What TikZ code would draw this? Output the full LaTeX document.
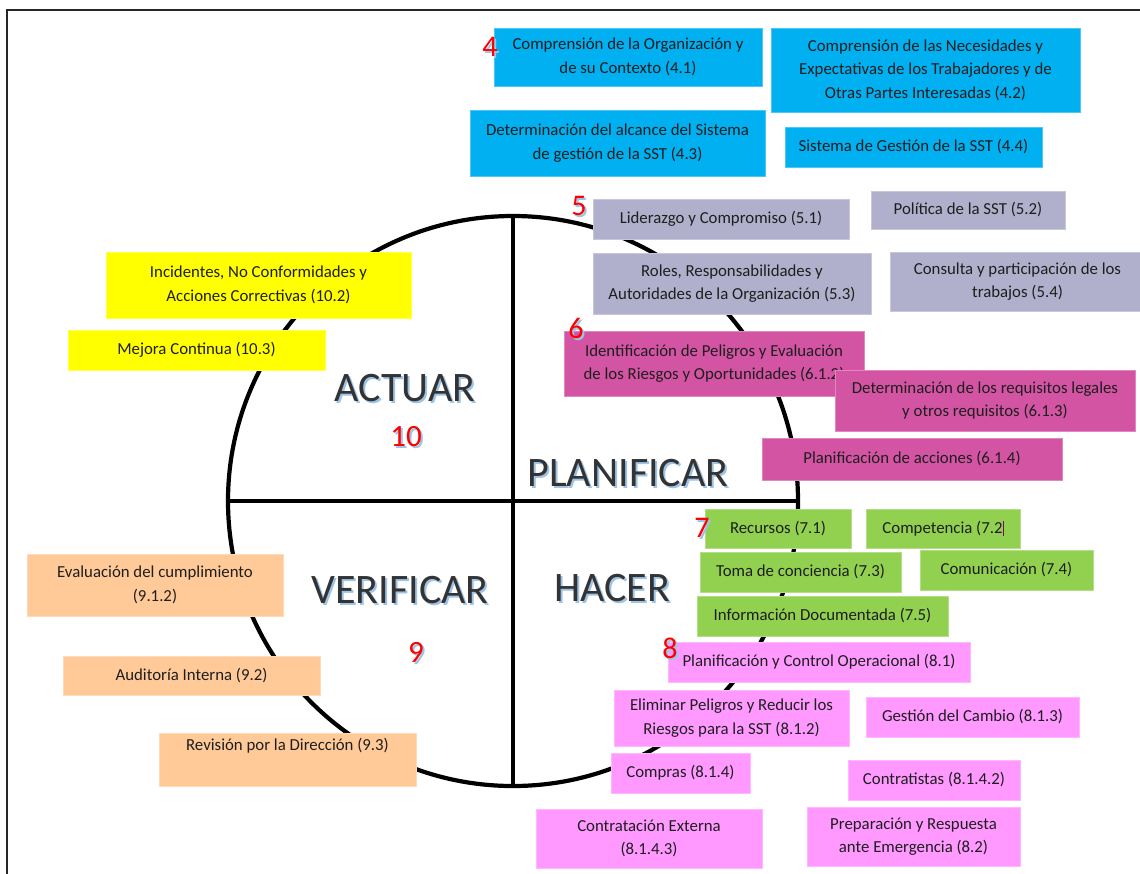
\documentclass[tikz,border=0pt]{standalone}
\usepackage{fontspec}
\setmainfont{Carlito}
\usetikzlibrary{shapes.geometric}

\definecolor{cajaazul}{HTML}{00B0F0}
\definecolor{cajalila}{RGB}{176,176,204}
\definecolor{cajamagenta}{RGB}{212,84,164}
\definecolor{cajaverde}{HTML}{92D050}
\definecolor{cajarosa}{HTML}{FF99FF}
\definecolor{cajadurazno}{HTML}{FFCA98}
\definecolor{cajaamarillo}{HTML}{FFFF00}
\definecolor{textocaja}{HTML}{1E1E1E}
\definecolor{sombraazul}{HTML}{9DC3E6}
\definecolor{grisfase}{HTML}{333333}

\tikzset{
  caja/.style={rectangle, inner sep=0pt, align=center, text=textocaja,
    font=\fontsize{16.8}{23.5}\selectfont},
  fase/.style={inner sep=0pt, font=\fontsize{42}{42}\selectfont},
  numfase/.style={inner sep=0pt, font=\fontsize{31}{31}\selectfont},
  numsec/.style={inner sep=0pt, font=\fontsize{30}{30}\selectfont},
  trazo/.style={line width=4.2pt, black},
}

% box: name, colour, x1, y1, x2, y2, text
\newcommand{\cajon}[7]{%
  \node[caja, fill=#2, draw=#2!70!white, line width=0.6pt,
        minimum width={(#5-#3)*1pt}, minimum height={(#6-#4)*1pt}]
        (#1) at ({(#3+#5)/2},{(#4+#6)/2}) {#7};}

% shadowed label: name, style, colour, x, y, text
\newcommand{\rotulo}[6]{%
  \node[#2, text=sombraazul] (#1-s) at ({#4+2},{#5+2}) {#6};
  \node[#2, text=#3] (#1) at (#4,#5) {#6};}

\begin{document}
\begin{tikzpicture}[x=1pt, y=-1pt]
\useasboundingbox (0,0) rectangle (1140,873);

% outer frame
\draw[line width=2pt, black!85] (7,890) -- (7,10) -- (1160,10);

% PHVA cycle
\node[circle, draw, trazo, minimum size=570pt, inner sep=0pt] (ciclo) at (513,501) {};
\draw[trazo] (ciclo.north) -- (ciclo.south);
\draw[trazo] (ciclo.west) -- (ciclo.east);

% phase names
\rotulo{actuar}{fase}{grisfase}{405}{388}{ACTUAR}
\rotulo{planificar}{fase}{grisfase}{628}{473}{PLANIFICAR}
\rotulo{verificar}{fase}{grisfase}{400}{590}{VERIFICAR}
\rotulo{hacer}{fase}{grisfase}{612}{588}{HACER}
\rotulo{n10}{numfase}{red}{406}{437}{10}
\rotulo{n9}{numfase}{red}{416}{652}{9}

% clause 4
\cajon{b41}{cajaazul}{494}{28}{762}{86}{Comprensión de la Organización y\\de su Contexto (4.1)}
\cajon{b42}{cajaazul}{771}{28}{1080}{112}{Comprensión de las Necesidades y\\Expectativas de los Trabajadores y de\\Otras Partes Interesadas (4.2)}
\cajon{b43}{cajaazul}{470}{110}{765}{176}{Determinación del alcance del Sistema\\de gestión de la SST (4.3)}
\cajon{b44}{cajaazul}{785}{127}{1042}{167}{Sistema de Gestión de la SST (4.4)}

% clause 5
\cajon{l51}{cajalila}{593}{199}{849}{239}{Liderazgo y Compromiso (5.1)}
\cajon{l52}{cajalila}{871}{191}{1065}{229}{Política de la SST (5.2)}
\cajon{l53}{cajalila}{593}{253}{871}{314}{Roles, Responsabilidades y\\Autoridades de la Organización (5.3)}
\cajon{l54}{cajalila}{890}{252}{1145}{311}{Consulta y participación de los\\trabajos (5.4)}

% clause 6
\cajon{m612}{cajamagenta}{564}{331}{864}{396}{Identificación de Peligros y Evaluación\\de los Riesgos y Oportunidades (6.1.2)}
\cajon{m613}{cajamagenta}{835}{370}{1135}{431}{Determinación de los requisitos legales\\y otros requisitos (6.1.3)}
\cajon{m614}{cajamagenta}{762}{438}{1062}{480}{Planificación de acciones (6.1.4)}

% clause 7
\cajon{g71}{cajaverde}{705}{509}{851}{548}{Recursos (7.1)}
\cajon{g72}{cajaverde}{866}{509}{1020}{548}{Competencia (7.2\textcolor{violet}{\rule[-3pt]{0.9pt}{15pt}}}
\cajon{g73}{cajaverde}{700}{552}{901}{592}{Toma de conciencia (7.3)}
\cajon{g74}{cajaverde}{920}{550}{1093}{590}{Comunicación (7.4)}
\cajon{g75}{cajaverde}{697}{596}{948}{636}{Información Documentada (7.5)}

% clause 8
\cajon{p81}{cajarosa}{668}{642}{970}{682}{Planificación y Control Operacional (8.1)}
\cajon{p812}{cajarosa}{614}{690}{849}{746}{Eliminar Peligros y Reducir los\\Riesgos para la SST (8.1.2)}
\cajon{p813}{cajarosa}{866}{697}{1079}{737}{Gestión del Cambio (8.1.3)}
\cajon{p814}{cajarosa}{611}{753}{750}{793}{Compras (8.1.4)}
\cajon{p8142}{cajarosa}{848}{760}{1020}{800}{Contratistas (8.1.4.2)}
\cajon{p8143}{cajarosa}{536}{809}{762}{868}{Contratación Externa\\(8.1.4.3)}
\cajon{p82}{cajarosa}{807}{807}{1020}{866}{Preparación y Respuesta\\ante Emergencia (8.2)}

% clause 9
\cajon{o912}{cajadurazno}{27}{554}{283}{616}{Evaluación del cumplimiento\\(9.1.2)}
\cajon{o92}{cajadurazno}{63}{656}{320}{695}{Auditoría Interna (9.2)}
\cajon{o93}{cajadurazno}{159}{733}{416}{786}{Revisión por la Dirección (9.3)\\\strut}

% clause 10
\cajon{y102}{cajaamarillo}{106}{252}{411}{318}{Incidentes, No Conformidades y\\Acciones Correctivas (10.2)}
\cajon{y103}{cajaamarillo}{68}{330}{325}{370}{Mejora Continua (10.3)}

% clause numbers
\rotulo{s4}{numsec}{red}{490}{47}{4}
\rotulo{s5}{numsec}{red}{579}{206}{5}
\rotulo{s6}{numsec}{red}{576}{328}{6}
\rotulo{s7}{numsec}{red}{702}{528}{7}
\rotulo{s8}{numsec}{red}{670}{648}{8}
\end{tikzpicture}
\end{document}
